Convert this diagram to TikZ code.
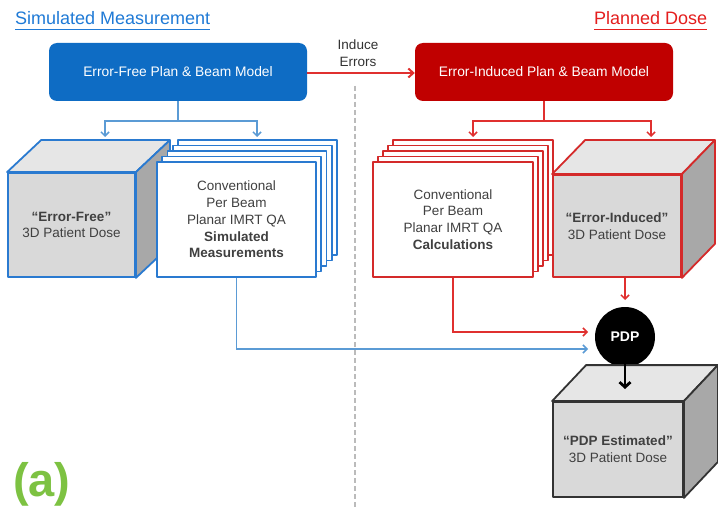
\documentclass[tikz,border=0pt]{standalone}
\usepackage{fontspec}
\setmainfont{Liberation Sans}
\usetikzlibrary{arrows.meta,calc}
\definecolor{boxblue}{HTML}{0E6CC4}
\definecolor{boxred}{HTML}{C00000}
\definecolor{lineblue}{HTML}{5B9BD5}
\definecolor{edgeblue}{HTML}{2A7AD0}
\definecolor{linered}{HTML}{E0302F}
\definecolor{edgered}{HTML}{D42A2A}
\definecolor{txtgray}{HTML}{404040}
\definecolor{frontgray}{HTML}{D9D9D9}
\definecolor{topgray}{HTML}{E6E6E6}
\definecolor{sidegray}{HTML}{A8A8A8}
\definecolor{agreen}{HTML}{7DC242}
\definecolor{titleblue}{HTML}{1F7AD6}
\definecolor{titlered}{HTML}{E41E1E}
\definecolor{dashgray}{HTML}{BBBBBB}
\newcommand\cubefaces[4]{%
  \draw[face, draw=#4, fill=topgray] (#1.north west) -- ++(#2,#3) -- ($(#1.north east)+(#2,#3)$) -- (#1.north east) -- cycle;
  \draw[face, draw=#4, fill=sidegray] (#1.north east) -- ++(#2,#3) -- ($(#1.south east)+(#2,#3)$) -- (#1.south east) -- cycle;
}
\begin{document}
\begin{tikzpicture}[x=1pt,y=-1pt,
  body/.style={font=\fontsize{13.5}{16.7}\selectfont, text=txtgray, align=center},
  modelbox/.style={rounded corners=8pt, minimum width=258pt, minimum height=58pt, inner sep=0pt, text=white, font=\fontsize{13.8}{16}\selectfont},
  face/.style={line width=1.8pt, line join=round},
  cubefront/.style={face, fill=frontgray, inner sep=0pt, body},
  pagebox/.style={face, fill=white, inner sep=0pt, minimum width=159pt, minimum height=115pt, body},
  conn/.style={line width=1.5pt, -{Straight Barb[length=4pt,width=8pt]}},
  title/.style={anchor=base west, inner sep=0pt, font=\fontsize{18}{20}\selectfont},
]
\useasboundingbox (0,0) rectangle (718,508);
\fill[white] (0,0) rectangle (718,508);

% titles
\node[title, text=titleblue] (t1) at (15,25) {Simulated Measurement};
\draw[titleblue, line width=1pt] ([yshift=-5pt]t1.base west) -- ([yshift=-5pt]t1.base east);
\node[title, text=titlered] (t2) at (594,25) {Planned Dose};
\draw[titlered, line width=1pt] ([yshift=-5pt]t2.base west) -- ([yshift=-5pt]t2.base east);

% dashed divider
\coordinate (dtop) at (355,86);
\coordinate (dbot) at (355,508);
\draw[dashgray, line width=1.5pt, dash pattern=on 5pt off 3pt] (dtop) -- (dbot);

% model boxes
\node[modelbox, fill=boxblue] (efb) at (178,72) {Error-Free Plan \& Beam Model};
\node[modelbox, fill=boxred] (eib) at (544,72) {Error-Induced Plan \& Beam Model};
\draw[linered, line width=2pt, -{Straight Barb[length=5pt,width=9pt]}] (efb.east |- 0,73) -- (eib.west |- 0,73);
\node[body, text=black!80, inner sep=0pt] (ind) at (358,53.5) {Induce\\Errors};

% blue tree
\coordinate (bj) at (178,121);
\coordinate (bl) at (105,137);
\coordinate (br) at (257,137);
\draw[lineblue, line width=1.5pt] (efb.south) -- (bj);
\draw[lineblue, conn] (bj) -| (bl);
\draw[lineblue, conn] (bj) -| (br);

% red tree
\coordinate (rj) at (544,121);
\coordinate (rl) at (473,137);
\coordinate (rr) at (651,137);
\draw[linered, line width=1.5pt] (eib.south) -- (rj);
\draw[linered, conn] (rj) -| (rl);
\draw[linered, conn] (rj) -| (rr);

% error-free cube
\node[cubefront, draw=edgeblue, minimum width=127pt, minimum height=104pt] (efc) at (71.5,225) {\textbf{“Error-Free”}\\3D Patient Dose};
\cubefaces{efc}{34}{-32}{edgeblue}

% blue pages
\coordinate (bpc) at (236.5,219.5);
\foreach \k in {4,3,2,1}
  \draw[face, draw=edgeblue, fill=white] ($(bpc)+(-79.5+\k*5.25,-57.5-\k*5.5)$) rectangle ($(bpc)+(79.5+\k*5.25,57.5-\k*5.5)$);
\node[pagebox, draw=edgeblue] (bpf) at (bpc) {Conventional\\Per Beam\\Planar IMRT QA\\\textbf{Simulated}\\\textbf{Measurements}};

% red pages
\coordinate (rpc) at (453,219.5);
\foreach \k in {4,3,2,1}
  \draw[face, draw=edgered, fill=white] ($(rpc)+(-80+\k*5,-57.5-\k*5.5)$) rectangle ($(rpc)+(80+\k*5,57.5-\k*5.5)$);
\node[pagebox, draw=edgered, minimum width=160pt] (rpf) at (rpc) {Conventional\\Per Beam\\Planar IMRT QA\\\textbf{Calculations}};

% error-induced cube
\node[cubefront, draw=edgered, minimum width=128pt, minimum height=102pt] (eic) at (617,226) {\textbf{“Error-Induced”}\\3D Patient Dose};
\cubefaces{eic}{33}{-34}{edgered}

% PDP
\node[circle, fill=black, minimum size=60pt, inner sep=0pt, text=white, font=\fontsize{14}{16}\selectfont\bfseries] (pdp) at (625,337) {PDP};

% PDP estimated cube
\node[cubefront, draw=black!80, minimum width=130pt, minimum height=95pt] (pec) at (618,449.5) {\textbf{“PDP Estimated”}\\3D Patient Dose};
\cubefaces{pec}{34}{-36}{black!80}

% connectors to PDP
\coordinate (pinB) at (588,349);
\coordinate (pinR) at (588,332);
\coordinate (pinT) at (625,300);
\coordinate (pout) at (625,389);
\draw[lineblue, conn] (bpf.south) |- (pinB);
\draw[linered, conn] (rpf.south) |- (pinR);
\draw[linered, conn] (eic.south -| pdp.north) -- (pinT);
\draw[black, line width=2.8pt, -{Straight Barb[length=5pt,width=11pt]}] ([yshift=10pt]pdp.south) -- (pout);

% label
\node[anchor=base west, inner sep=0pt, font=\fontsize{47}{47}\selectfont\bfseries, text=agreen] (lbl) at (13,496) {(a)};
\end{tikzpicture}
\end{document}
